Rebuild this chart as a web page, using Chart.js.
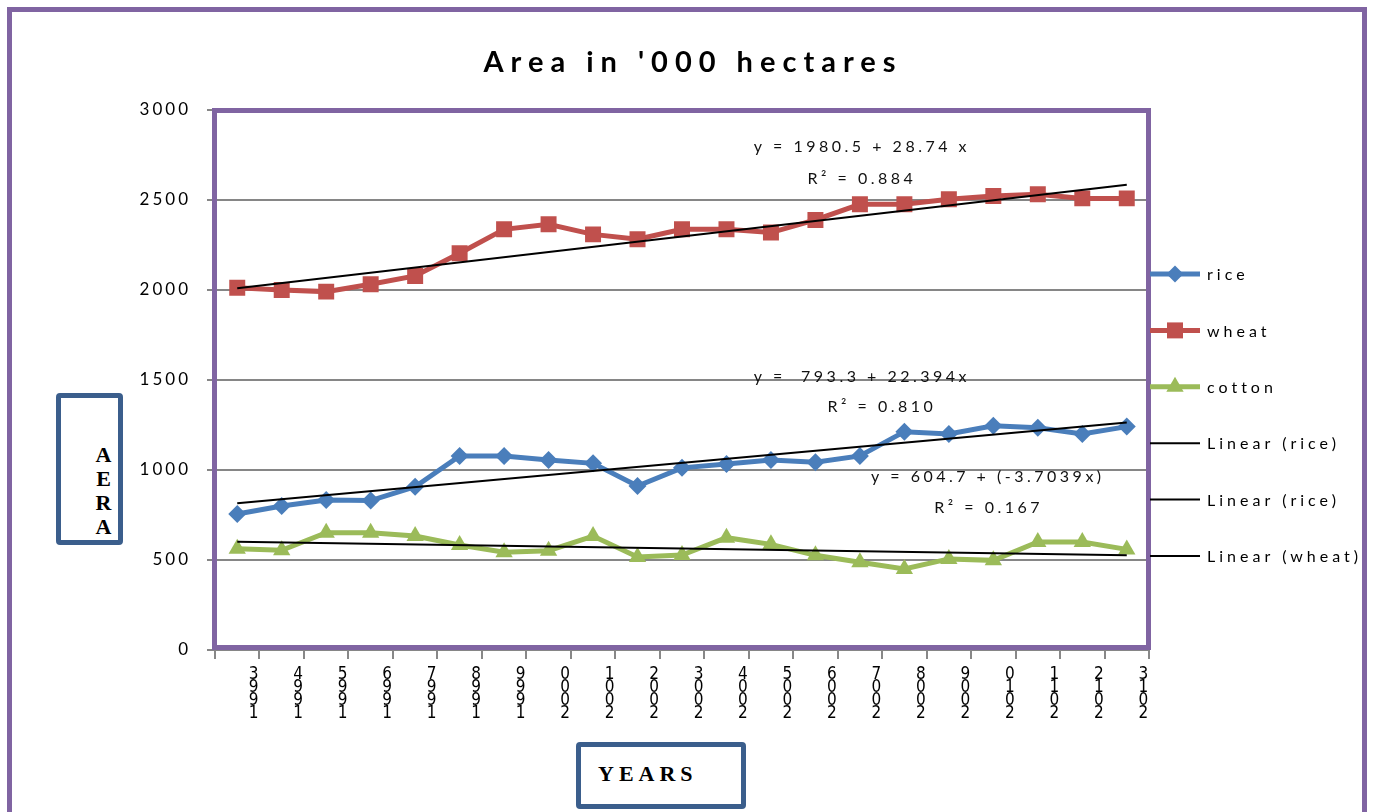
<!DOCTYPE html>
<html>
<head>
<meta charset="utf-8">
<script src="https://cdn.jsdelivr.net/npm/chart.js@4.4.1/dist/chart.umd.min.js"></script>
<style>
  html, body { margin: 0; padding: 0; background: #fff; }
  body { width: 1374px; height: 812px; position: relative; overflow: hidden; }
  #frame { position: absolute; left: 7px; top: 7px; width: 1350px; height: 840px; border: 5px solid #8064a2; }
  #chart { position: absolute; left: 0; top: 0; }
  .axis-box {
    position: absolute; box-sizing: border-box; background: #fff;
    border: 5px solid #3b5e8c; border-radius: 4px;
    font-family: 'Liberation Serif', 'DejaVu Serif', serif; font-weight: bold; font-size: 22px; color: #000;
  }
  #ytitle { left: 56px; top: 393px; width: 67px; height: 152px; }
  #ytitle span { position: absolute; left: 31px; top: 44px; writing-mode: vertical-rl; text-orientation: upright; line-height: 1; letter-spacing: -1px; }
  #xtitle { left: 576px; top: 742px; width: 170px; height: 67px; }
  #xtitle span { position: absolute; left: 17px; top: 16px; letter-spacing: 5px; line-height: 1; }
</style>
</head>
<body>
<div id="frame"></div>
<canvas id="chart" width="1374" height="812"></canvas>
<div class="axis-box" id="ytitle"><span>AERA</span></div>
<div class="axis-box" id="xtitle"><span>YEARS</span></div>
<script>
// values
const years = ['1993', '1994', '1995', '1996', '1997', '1998', '1999', '2000', '2001', '2002', '2003',
  '2004', '2005', '2006', '2007', '2008', '2009', '2010', '2011', '2012', '2013'];
const rice = [756, 800, 833, 830, 907, 1078, 1078, 1056, 1037, 911, 1012,
  1033, 1056, 1043, 1078, 1213, 1200, 1246, 1235, 1200, 1241];
const wheat = [2013, 2000, 1991, 2032, 2078, 2204, 2337, 2365, 2309, 2282, 2337,
  2337, 2319, 2389, 2476, 2476, 2504, 2522, 2532, 2509, 2509];
const cotton = [563, 554, 652, 652, 633, 583, 543, 552, 633, 517, 528,
  624, 587, 526, 487, 450, 506, 498, 600, 600, 559];

// trend line ends (first and last year)
const riceTrend = [815.7, 1263.6];
const wheatTrend = [2009.2, 2584.3];
const cottonTrend = [601.0, 526.9];

const seriesNames = ['rice', 'wheat', 'cotton'];
const trendNames = ['Linear (rice)', 'Linear (rice)', 'Linear (wheat)'];

const trendNotes = [
  { text: 'y = 1980.5 + 28.74 x', at: 14, value: 2794 },
  { text: 'R\u00b2 = 0.884', at: 14, value: 2617 },
  { text: 'y =  793.3 + 22.394x', at: 14, value: 1517 },
  { text: 'R\u00b2 = 0.810', at: 14.45, value: 1350 },
  { text: 'y = 604.7 + (-3.7039x)', at: 16.83, value: 961 },
  { text: 'R\u00b2 = 0.167', at: 16.85, value: 789 },
];

const yearLabels = years.map((y) => y.split('').reverse());
const endsOnly = (pair) =>
  years.map((_, i) => (i === 0 ? pair[0] : i === years.length - 1 ? pair[1] : null));

const BLUE = '#4a7ebb';
const RED = '#c0504d';
const GREEN = '#9bbb59';
const PURPLE = '#8064a2';

const series = (label, data, color, pointStyle, radius) => ({
  label,
  data,
  borderColor: color,
  backgroundColor: color,
  borderWidth: 5,
  pointStyle,
  pointRadius: radius,
  pointHoverRadius: radius,
  pointBorderWidth: 0,
  tension: 0,
  order: 1,
});

const trend = (label, pair) => ({
  label,
  data: endsOnly(pair),
  borderColor: '#000',
  borderWidth: 2,
  pointRadius: 0,
  spanGaps: true,
  order: 0,
});

// frame, title, trend equations and legend
const decorPlugin = {
  id: 'decor',
  beforeDraw: (chart) => {
    chart.ctx.letterSpacing = '3px';
  },
  beforeDatasetsDraw: (chart) => {
    const { ctx, chartArea: a } = chart;
    ctx.save();
    ctx.strokeStyle = PURPLE;
    ctx.lineWidth = 5;
    ctx.strokeRect(a.left - 0.5, a.top + 0.5, a.right - a.left, a.bottom - a.top - 3);
    ctx.restore();
  },
  afterDraw: (chart) => {
    const { ctx, scales } = chart;
    ctx.save();
    ctx.fillStyle = '#000';
    ctx.textBaseline = 'middle';

    ctx.font = 'bold 29px Lato';
    ctx.letterSpacing = '7px';
    ctx.textAlign = 'center';
    ctx.fillText("Area in '000 hectares", 693, 63);

    ctx.font = '16px Lato';
    ctx.letterSpacing = '3.5px';
    ctx.fillStyle = '#111';
    trendNotes.forEach((n) => {
      const x = scales.x.getPixelForValue(n.at);
      const y = scales.y.getPixelForValue(n.value);
      ctx.fillText(n.text, x + 2, y);
    });

    const styles = [
      { color: BLUE, point: 'rectRot', r: 8.5, w: 5 },
      { color: RED, point: 'rect', r: 11.3, w: 5 },
      { color: GREEN, point: 'triangle', r: 10, w: 5 },
      { color: '#000', point: null, w: 2 },
      { color: '#000', point: null, w: 2 },
      { color: '#000', point: null, w: 2 },
    ];
    const labels = seriesNames.concat(trendNames);
    ctx.textAlign = 'left';
    ctx.letterSpacing = '4px';
    labels.forEach((label, i) => {
      const y = 274 + i * 56.4;
      const s = styles[i];
      ctx.strokeStyle = s.color;
      ctx.lineWidth = s.w;
      ctx.beginPath();
      ctx.moveTo(1150, y);
      ctx.lineTo(1200, y);
      ctx.stroke();
      if (s.point) {
        ctx.fillStyle = s.color;
        Chart.helpers.drawPoint(ctx, { pointStyle: s.point, radius: s.r, rotation: 0, borderWidth: 0 }, 1175, y);
      }
      ctx.fillStyle = '#000';
      ctx.fillText(label, 1207, y + 1);
    });
    ctx.restore();
  },
};

Chart.defaults.font.family = 'Lato, sans-serif';

new Chart(document.getElementById('chart'), {
  type: 'line',
  data: {
    labels: yearLabels,
    datasets: [
      series(seriesNames[0], rice, BLUE, 'rectRot', 9),
      series(seriesNames[1], wheat, RED, 'rect', 11.3),
      series(seriesNames[2], cotton, GREEN, 'triangle', 10),
      trend(trendNames[0], riceTrend),
      trend(trendNames[1], wheatTrend),
      trend(trendNames[2], cottonTrend),
    ],
  },
  options: {
    responsive: false,
    animation: false,
    layout: { padding: { top: 110, right: 225, bottom: 0, left: 0 } },
    plugins: {
      legend: { display: false },
      title: { display: false },
      tooltip: { enabled: false },
    },
    scales: {
      x: {
        offset: true,
        grid: { offset: true, drawOnChartArea: false, drawTicks: true, tickLength: 9, color: '#888', lineWidth: 2 },
        border: { display: false },
        ticks: {
          autoSkip: false,
          maxRotation: 0,
          minRotation: 0,
          labelOffset: 18,
          padding: 9,
          color: '#000',
          font: { family: "'DejaVu Sans Condensed', 'Liberation Sans Narrow', sans-serif", size: 17, lineHeight: 0.76 },
        },
        afterFit: (s) => { s.height = 162; },
      },
      y: {
        min: 0,
        max: 3000,
        ticks: {
          stepSize: 500,
          callback: (v) => String(v),
          padding: 16,
          color: '#000',
          font: { size: 17 },
        },
        grid: { color: '#868686', lineWidth: 2, tickLength: 8 },
        border: { display: false },
        afterFit: (s) => { s.width = 215; },
      },
    },
  },
  plugins: [decorPlugin],
});
</script>
</body>
</html>
